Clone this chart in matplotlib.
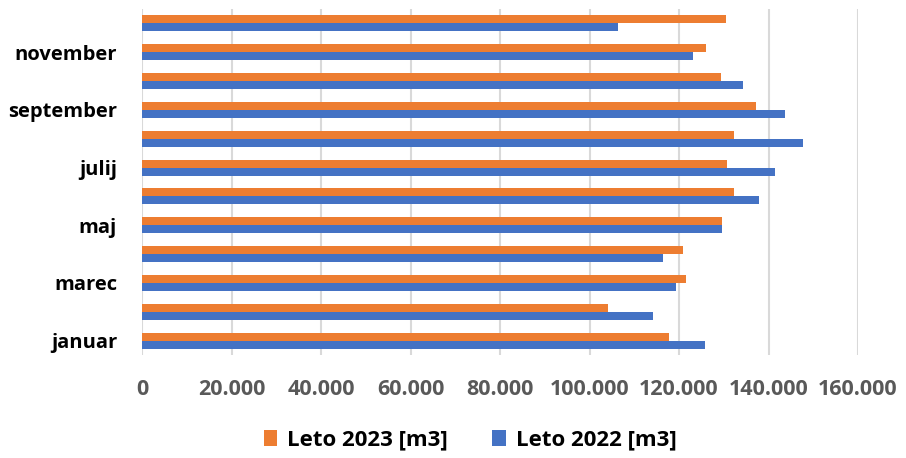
import numpy as np
import matplotlib
matplotlib.use('Agg')
import matplotlib.pyplot as plt
from matplotlib.ticker import FuncFormatter

months = ['januar', 'februar', 'marec', 'april', 'maj', 'junij',
          'julij', 'avgust', 'september', 'oktober', 'november', 'december']
leto_2023 = [117700, 104100, 121500, 120900, 129500, 132200,
             130700, 132200, 137100, 129400, 126000, 130400]
leto_2022 = [125900, 114100, 119400, 116400, 129500, 137800,
             141500, 147600, 143600, 134400, 123200, 106300]
series_labels = ['Leto 2023 [m3]', 'Leto 2022 [m3]']

plt.rcParams['font.family'] = ['Open Sans', 'DejaVu Sans']

fig = plt.figure(figsize=(9.06, 4.58), dpi=100)
ax = fig.add_axes([142 / 906, 1 - 355 / 458, (858 - 142) / 906, (355 - 9) / 458])

y = np.arange(len(months))
h = 0.28
ax.barh(y + h / 2, leto_2023, height=h, color='#ED7D31', label=series_labels[0], zorder=3)
ax.barh(y - h / 2, leto_2022, height=h, color='#4472C4', label=series_labels[1], zorder=3)

ax.set_xlim(0, 160000)
ax.set_ylim(-0.5, len(months) - 0.5)
ax.set_xticks(np.arange(0, 160001, 20000))
ax.xaxis.set_major_formatter(FuncFormatter(lambda v, p: '0' if v == 0 else f'{int(v):,}'.replace(',', '.')))
ax.set_yticks(y[::2])
ax.set_yticklabels(months[::2])

ax.grid(axis='x', color='#d9d9d9', linewidth=1.5, zorder=0)
for s in ax.spines.values():
    s.set_visible(False)
ax.tick_params(length=0)
ax.tick_params(axis='x', labelsize=15.5, labelcolor='#595959', pad=17)
ax.tick_params(axis='y', labelsize=14.5, labelcolor='black', pad=18)
for t in ax.get_xticklabels() + ax.get_yticklabels():
    t.set_fontweight('bold')

fig.legend(loc='center', bbox_to_anchor=(470 / 906, 1 - 440 / 458), ncol=2, frameon=False,
           prop={'weight': 'bold', 'size': 16}, handlelength=0.6, handleheight=0.7,
           columnspacing=2.0, handletextpad=0.45)

fig.savefig('out.png', dpi=100)
